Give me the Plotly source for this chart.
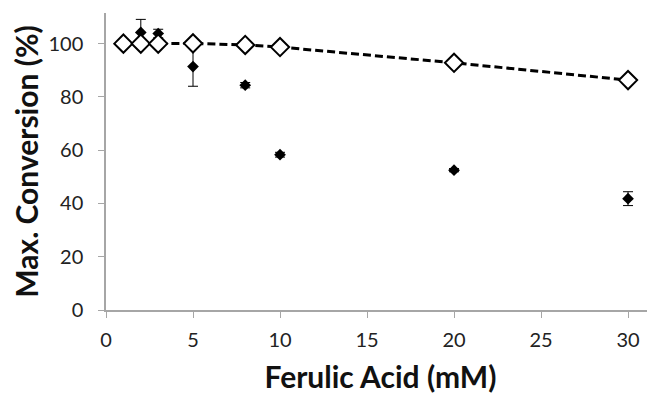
import plotly.graph_objects as go

conc_open = [1, 2, 3, 5, 8, 10, 20, 30]
conv_open = [100, 100, 100, 100.1, 99.5, 98.7, 92.8, 86.3]

conc_fill = [2, 3, 5, 8, 10, 20, 30]
conv_fill = [104.2, 103.8, 91.4, 84.4, 58.3, 52.5, 41.8]
err_fill = [4.9, 1.6, 7.4, 1.0, 0.9, 0.6, 2.6]

x_ticks = [0, 5, 10, 15, 20, 25, 30]
y_ticks = [0, 20, 40, 60, 80, 100]

fig = go.Figure()
fig.add_trace(go.Scatter(
    x=conc_fill, y=conv_fill, mode="markers",
    marker=dict(symbol="diamond", size=9, color="black"),
    error_y=dict(type="data", array=err_fill, visible=True, color="black",
                 thickness=1, width=5),
    showlegend=False))
fig.add_trace(go.Scatter(
    x=conc_open, y=conv_open, mode="lines+markers",
    line=dict(color="black", width=3, dash="8px,4px"),
    marker=dict(symbol="diamond", size=14, color="white",
                line=dict(color="black", width=2)),
    showlegend=False))

axis_font = dict(family="Lato, Open Sans, sans-serif", size=20, color="#222")
title_font = dict(family="Lato, Open Sans, sans-serif", size=30, color="#111")

fig.update_layout(
    width=647, height=390,
    margin=dict(l=98, r=0, t=5, b=88),
    paper_bgcolor="white", plot_bgcolor="white",
    xaxis=dict(range=[0, 31.55], tickvals=x_ticks, ticks="outside", ticklen=6,
               tickcolor="#a6a6a6", showline=True, linecolor="#a6a6a6",
               linewidth=1.5, showgrid=False, zeroline=False, automargin=False,
               tickfont=axis_font, ticklabelstandoff=5,
               title=dict(text="<b>Ferulic Acid (mM)</b>", font=title_font, standoff=17)),
    yaxis=dict(range=[0, 111.5], tickvals=y_ticks, ticks="outside", ticklen=6,
               tickcolor="#a6a6a6", showline=True, linecolor="#a6a6a6",
               linewidth=1.5, showgrid=False, zeroline=False, automargin=False,
               tickfont=axis_font, ticklabelstandoff=11,
               title=dict(text="<b>Max. Conversion (%)</b>", font=title_font, standoff=22)),
)

fig.write_html("out.html")
